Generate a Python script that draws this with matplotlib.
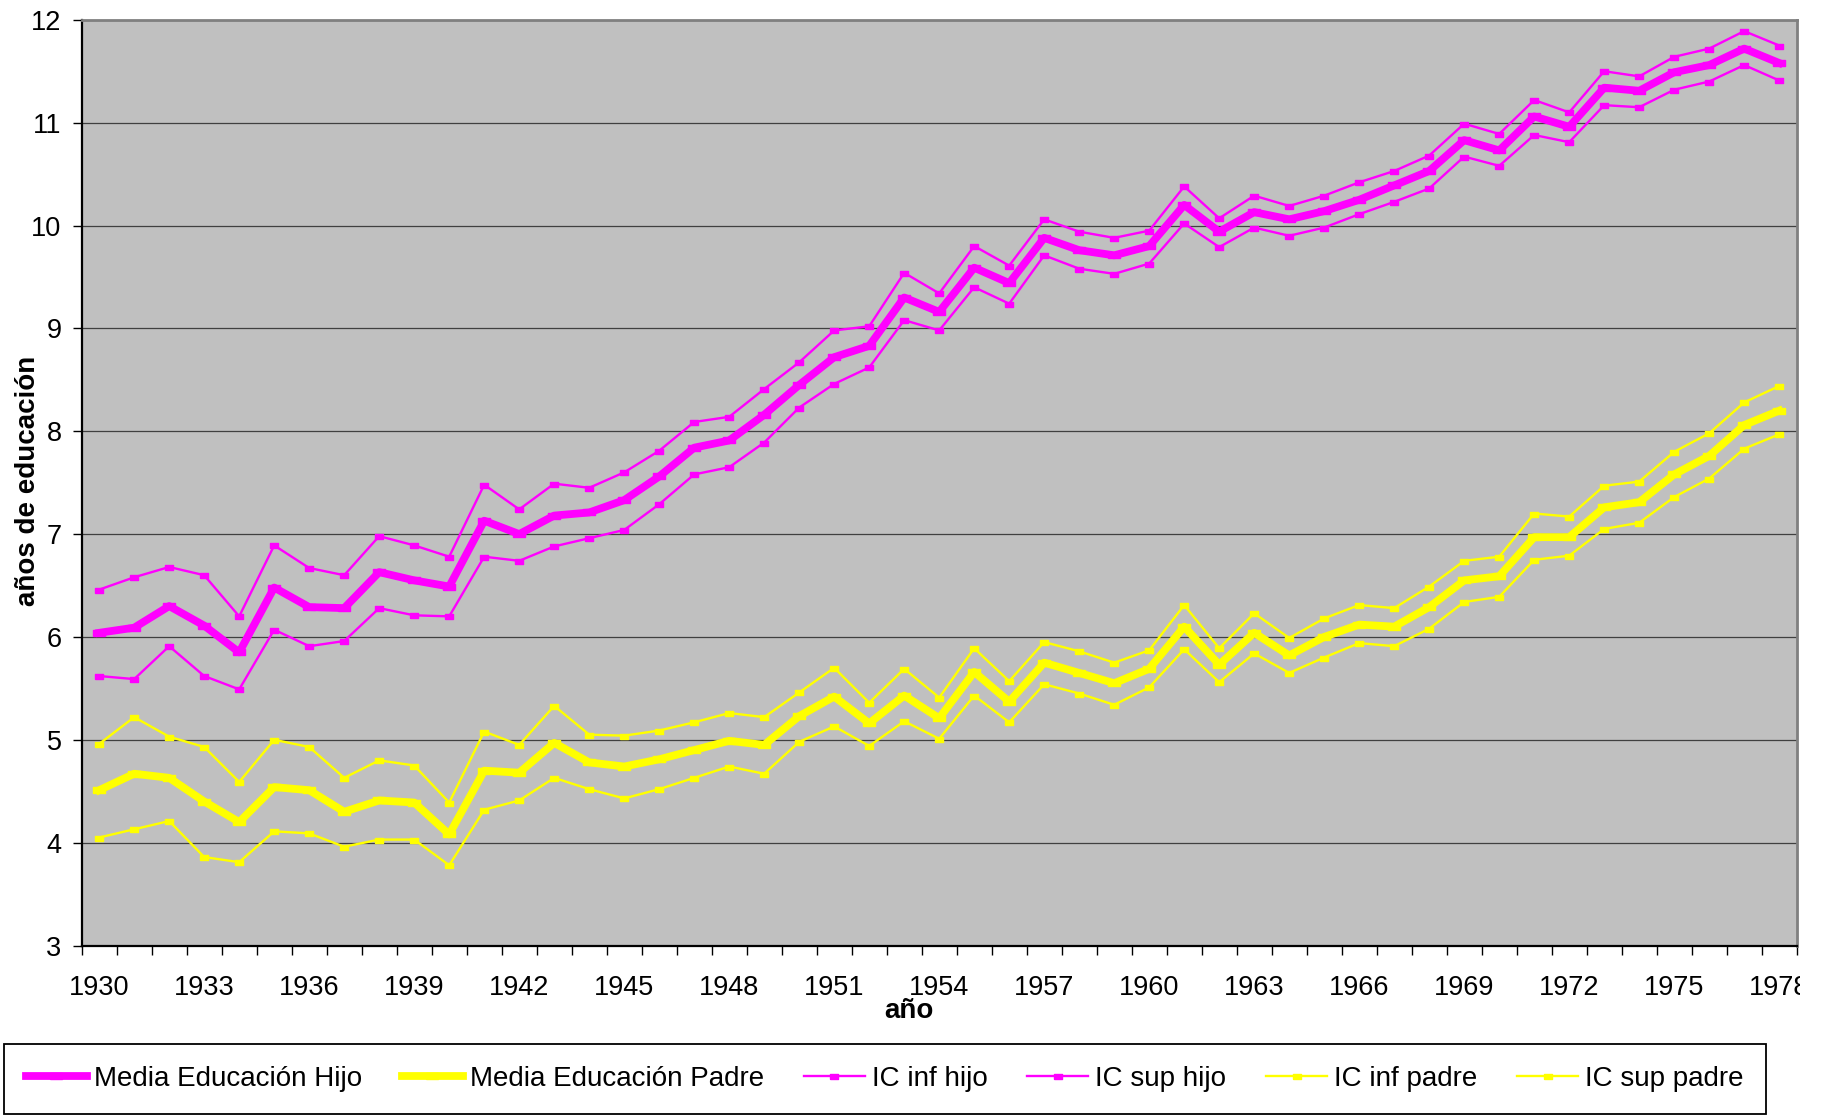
##########################################
# Media de educacion hijo / padre con IC
##########################################
import matplotlib
matplotlib.use("Agg")
import matplotlib.pyplot as plt
from matplotlib.transforms import Bbox, TransformedBbox

plt.rcParams['font.family'] = ['Liberation Sans', 'DejaVu Sans']

##########################################
# Data
##########################################
years = list(range(1930, 1979))

media_hijo = [6.04, 6.09, 6.30, 6.11, 5.85, 6.48, 6.29, 6.28, 6.63, 6.55, 6.49,
              7.13, 7.00, 7.18, 7.21, 7.33, 7.56, 7.84, 7.91, 8.16, 8.45, 8.72, 8.83, 9.30, 9.16,
              9.59, 9.44, 9.88, 9.76, 9.71, 9.80, 10.20, 9.94, 10.13, 10.06, 10.14,
              10.25, 10.39, 10.53, 10.83, 10.73, 11.06, 10.96, 11.34, 11.31, 11.49, 11.56, 11.72, 11.58]

ic_sup_hijo = [6.46, 6.58, 6.68, 6.60, 6.20, 6.89, 6.67, 6.60, 6.98, 6.89, 6.78,
               7.48, 7.24, 7.49, 7.45, 7.60, 7.81, 8.09, 8.14, 8.41, 8.67, 8.98, 9.02, 9.54, 9.34,
               9.80, 9.61, 10.06, 9.94, 9.88, 9.95, 10.38, 10.07, 10.29, 10.19, 10.29,
               10.42, 10.53, 10.68, 10.99, 10.89, 11.22, 11.10, 11.50, 11.45, 11.64, 11.72, 11.89, 11.75]

ic_inf_hijo = [5.62, 5.59, 5.91, 5.62, 5.49, 6.07, 5.91, 5.96, 6.28, 6.21, 6.20,
               6.78, 6.74, 6.88, 6.96, 7.04, 7.29, 7.58, 7.65, 7.89, 8.23, 8.46, 8.62, 9.08, 8.98,
               9.40, 9.24, 9.71, 9.58, 9.53, 9.63, 10.02, 9.79, 9.98, 9.90, 9.98,
               10.11, 10.23, 10.36, 10.67, 10.58, 10.88, 10.81, 11.17, 11.15, 11.32, 11.40, 11.56, 11.41]

media_padre = [4.51, 4.67, 4.63, 4.40, 4.20, 4.54, 4.51, 4.30, 4.41, 4.39, 4.08,
               4.70, 4.68, 4.97, 4.78, 4.74, 4.81, 4.90, 4.99, 4.95, 5.23, 5.42, 5.16, 5.43,
               5.21, 5.66, 5.37, 5.75, 5.65, 5.55, 5.69, 6.10, 5.73, 6.04, 5.82, 6.00,
               6.12, 6.10, 6.29, 6.55, 6.59, 6.97, 6.97, 7.26, 7.31, 7.58, 7.76, 8.06, 8.20]

ic_sup_padre = [4.96, 5.22, 5.03, 4.93, 4.59, 5.00, 4.93, 4.63, 4.80, 4.75, 4.39,
                5.08, 4.95, 5.33, 5.05, 5.04, 5.09, 5.17, 5.26, 5.22, 5.46, 5.70, 5.36, 5.69,
                5.41, 5.89, 5.57, 5.95, 5.86, 5.75, 5.87, 6.31, 5.89, 6.23, 5.99, 6.18,
                6.31, 6.28, 6.49, 6.74, 6.78, 7.20, 7.17, 7.47, 7.51, 7.80, 7.98, 8.28, 8.44]

ic_inf_padre = [4.05, 4.13, 4.21, 3.86, 3.81, 4.11, 4.09, 3.96, 4.03, 4.03, 3.78,
                4.32, 4.41, 4.63, 4.52, 4.43, 4.52, 4.63, 4.74, 4.67, 4.98, 5.13, 4.94, 5.18,
                5.01, 5.43, 5.17, 5.54, 5.45, 5.34, 5.51, 5.88, 5.56, 5.84, 5.65, 5.80,
                5.94, 5.91, 6.08, 6.34, 6.39, 6.75, 6.79, 7.05, 7.11, 7.36, 7.54, 7.83, 7.97]

year_labels = list(range(1930, 1979, 3))
y_ticks = list(range(3, 13))

##########################################
# Plot
##########################################
W, H = 1828, 1120
fig = plt.figure(figsize=(W / 100, H / 100), dpi=100)
ax = fig.add_axes([81.7 / W, 1 - 945.5 / H, (1796.7 - 81.7) / W, (945.5 - 19.8) / H])
ax.set_facecolor('#c0c0c0')

box = [(-1, -0.6), (1, -0.6), (1, 0.6), (-1, 0.6), (-1, -0.6)]   # flat excel-ish marker
MAG = '#ff00ff'
YEL = '#ffff00'

ax.plot(years, media_hijo, color=MAG, lw=5.6, marker=box, ms=8, label='Media Educación Hijo')
ax.plot(years, media_padre, color=YEL, lw=5.6, marker=box, ms=8, label='Media Educación Padre')
ax.plot(years, ic_inf_hijo, color=MAG, lw=1.7, marker=box, ms=6, label='IC inf hijo')
ax.plot(years, ic_sup_hijo, color=MAG, lw=1.7, marker=box, ms=6, label='IC sup hijo')
ax.plot(years, ic_inf_padre, color=YEL, lw=1.7, marker=box, ms=6, label='IC inf padre')
ax.plot(years, ic_sup_padre, color=YEL, lw=1.7, marker=box, ms=6, label='IC sup padre')

ax.set_xlim(1929.5, 1978.5)
ax.set_ylim(3, 12)
ax.set_yticks(y_ticks)
ax.set_xticks(year_labels)
ax.set_xticks([y - 0.5 for y in years] + [1978.5], minor=True)
ax.yaxis.grid(True, color='#404040', lw=0.9)
ax.set_axisbelow(True)

ax.tick_params(axis='y', direction='out', length=6.5, width=1, labelsize=19.5, pad=8)
ax.tick_params(axis='x', which='major', length=0, labelsize=19.5, pad=21)
ax.tick_params(axis='x', which='minor', direction='out', length=6.5, width=1)

for side in ['left', 'bottom']:
    ax.spines[side].set_color('black')
    ax.spines[side].set_linewidth(1.6)
for side in ['top', 'right']:
    ax.spines[side].set_color('#808080')
    ax.spines[side].set_linewidth(2)

# last year label is cut off at the chart edge in the original
clip = TransformedBbox(Bbox([[0, 0], [1800 / W, 1]]), fig.transFigure)
last = ax.xaxis.get_major_ticks()[-1].label1
last.set_clip_on(True)
last.set_clip_box(clip)

fig.text(909 / W, 1 - 1011 / H, 'año', ha='center', va='center', fontsize=20, fontweight='bold')
fig.text(28 / W, 1 - 481 / H, 'años de educación', ha='center', va='center',
         rotation=90, fontsize=20, fontweight='bold')

leg = fig.legend(loc='center', bbox_to_anchor=(3.5 / W, 1 - 1117 / H, (1766 - 3.5) / W, 76 / H),
                 mode='expand', ncol=6, borderaxespad=0, fancybox=False, framealpha=1,
                 edgecolor='black', handlelength=2.2, handletextpad=0.25, borderpad=0.8,
                 fontsize=20, numpoints=1)
leg.get_frame().set_linewidth(1.3)

fig.savefig('out.png', dpi=100, facecolor='white')
